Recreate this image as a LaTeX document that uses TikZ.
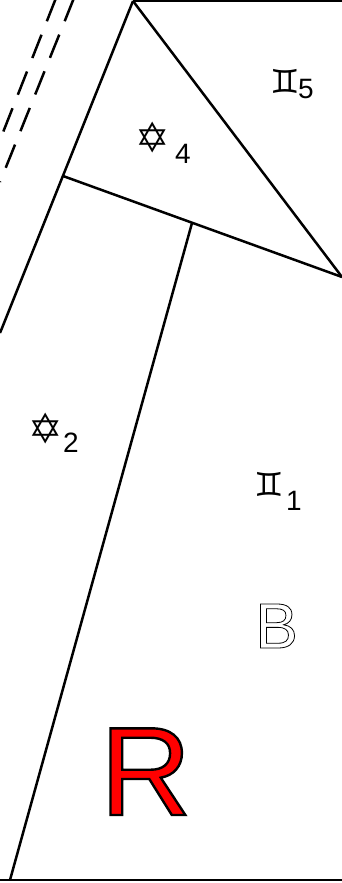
\documentclass[tikz,border=0pt]{standalone}
\usepackage{fontspec}
\setmainfont{Liberation Sans}
\newfontfamily\symfont{DejaVu Sans}
\begin{document}
\begin{tikzpicture}[x=1pt,y=-1pt,
  edge/.style={line width=2.5pt},
  dashedge/.style={line width=2.5pt, dash pattern=on 25pt off 14.5pt},
  star/.style={inner sep=0pt, anchor=center, font=\symfont\fontsize{41}{41}\selectfont},
  gem/.style={inner sep=0pt, anchor=center, font=\symfont\fontsize{33}{33}\selectfont},
  idx/.style={inner sep=0pt, anchor=base west, font=\fontsize{28}{28}\selectfont},
  big/.style={inner sep=0pt, anchor=base west}]
\useasboundingbox (0,0) rectangle (342,883);
% vertices
\coordinate (A) at (133,1);
\coordinate (TR) at (342,1);
\coordinate (L1) at (0,333);
\coordinate (P) at (63,176);
\coordinate (Q) at (342,277);
\coordinate (M) at (192,223);
\coordinate (Bt) at (10,880);
\coordinate (BL) at (0,880);
\coordinate (BR) at (342,880);
\coordinate (D1a) at (56,-2);
\coordinate (D1b) at (0,140);
\coordinate (D2a) at (74,-2);
\coordinate (D2b) at (0,182);
% edges
\draw[edge] (A) -- (TR);
\draw[edge] (A) -- (L1);
\draw[edge] (A) -- (Q);
\draw[edge] (P) -- (Q);
\draw[edge] (M) -- (Bt);
\draw[edge] (BL) -- (BR);
\draw[dashedge] (D1a) -- (D1b);
\draw[dashedge] (D2a) -- (D2b);
% labels
\node[star] (s4) at (152.5,138) {✡};
\node[idx] (n4) at (175,163) {4};
\node[gem] (g5) at (285,81) {♊};
\node[idx] (n5) at (298,98) {5};
\node[star] (s2) at (46,429) {✡};
\node[idx] (n2) at (63,452) {2};
\node[gem] (g1) at (269.5,484) {♊};
\node[idx] (n1) at (286,510) {1};
\node[big, font=\fontsize{64}{64}\selectfont] (B) at (255,648)
  {\special{pdf:code 1 Tr 0.8 w 0 G}B\special{pdf:code 0 Tr}};
\node[big, font=\fontsize{126}{126}\selectfont] (R) at (100,815)
  {\color{red}\special{pdf:code 2 Tr 2.4 w 0 G}R\special{pdf:code 0 Tr}};
\end{tikzpicture}
\end{document}
